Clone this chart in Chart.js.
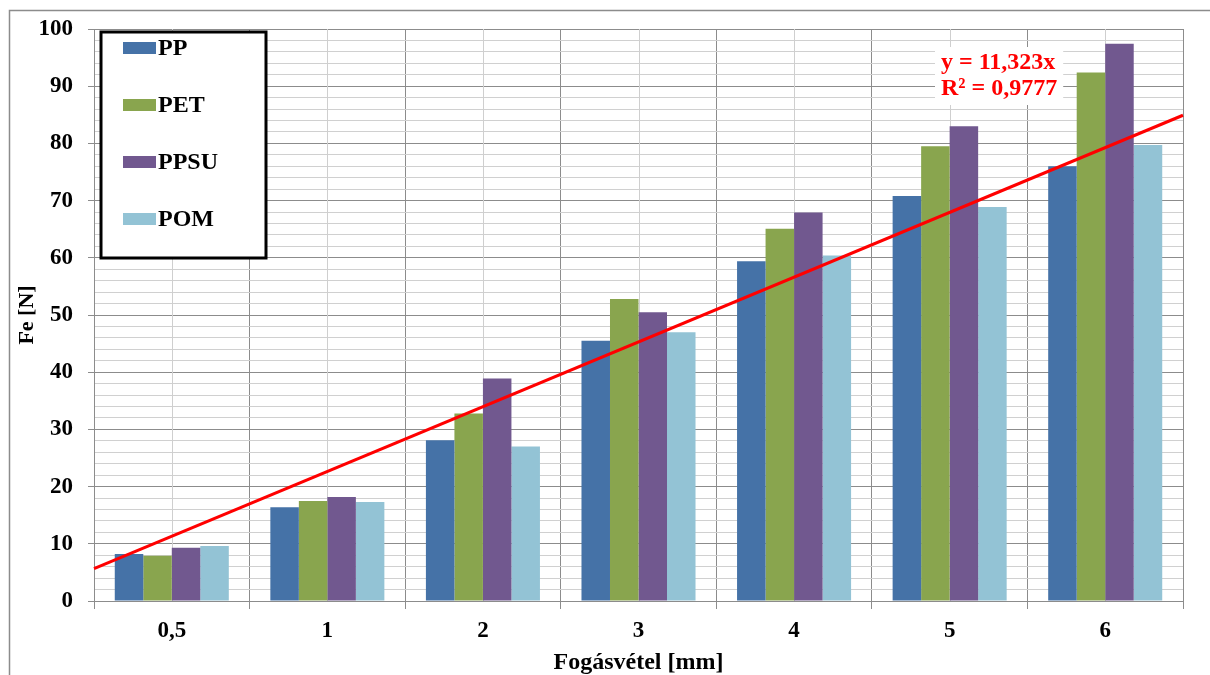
<!DOCTYPE html>
<html>
<head>
<meta charset="utf-8">
<script src="https://cdn.jsdelivr.net/npm/chart.js@4.4.1/dist/chart.umd.min.js"></script>
<style>
  html, body { margin: 0; padding: 0; background: #ffffff; }
  #wrap { width: 1210px; height: 675px; position: relative; }
</style>
</head>
<body>
<div id="wrap"><canvas id="c" width="1210" height="675"></canvas></div>
<script>
// ---- Data ----
const categories = ['0,5', '1', '2', '3', '4', '5', '6'];
const seriesNames = ['PP', 'PET', 'PPSU', 'POM'];
const ppValues   = [8.2, 16.4, 28.1, 45.5, 59.4, 70.8, 76.0];
const petValues  = [7.9, 17.5, 32.8, 52.8, 65.1, 79.5, 92.4];
const ppsuValues = [9.3, 18.2, 38.9, 50.5, 67.9, 83.0, 97.4];
const pomValues  = [9.6, 17.3, 27.0, 47.0, 60.4, 68.9, 79.7];
const seriesColors = ['#4572A7', '#89A54E', '#71588F', '#93C3D5'];
// Linear trend line (Excel: y = 11,323x over category number 1..7), endpoints at plot edges
const trendX = [0.5, 7.5];
const trendY = [5.66, 84.92];
const trendLabel = ['y = 11,323x', 'R\u00B2 = 0,9777'];
const yTickLabels = [0, 10, 20, 30, 40, 50, 60, 70, 80, 90, 100];
const xTitle = 'Fog\u00E1sv\u00E9tel [mm]';
const yTitle = 'Fe [N]';

const SERIF = '"Liberation Serif", "Times New Roman", serif';

const frame = {
  id: 'frame',
  beforeDraw(chart) {
    const ctx = chart.ctx;
    ctx.save();
    ctx.fillStyle = '#ffffff';
    ctx.fillRect(0, 0, chart.width, chart.height);
    ctx.strokeStyle = '#8c8c8c';
    ctx.lineWidth = 1.5;
    ctx.beginPath();
    ctx.moveTo(9.5, chart.height);
    ctx.lineTo(9.5, 10.5);
    ctx.lineTo(chart.width, 10.5);
    ctx.stroke();
    ctx.restore();
  },
  beforeDatasetsDraw(chart) {
    // lighter vertical lines at category centres
    const ctx = chart.ctx, xs = chart.scales.x, a = chart.chartArea;
    ctx.save();
    ctx.strokeStyle = '#cfcfcf';
    ctx.lineWidth = 1;
    categories.forEach((c, i) => {
      const px = Math.round(xs.getPixelForValue(i)) + 0.5;
      ctx.beginPath();
      ctx.moveTo(px, a.top);
      ctx.lineTo(px, a.bottom);
      ctx.stroke();
    });
    ctx.restore();
  },
  afterDatasetsDraw(chart) {
    // trend line, positioned through the chart's own x (category index) and y scales
    const ctx = chart.ctx, xs = chart.scales.x, ys = chart.scales.y;
    ctx.save();
    ctx.strokeStyle = '#ff0000';
    ctx.lineWidth = 3;
    ctx.beginPath();
    trendX.forEach((x, i) => {
      const px = xs.getPixelForValue(x - 1);
      const py = ys.getPixelForValue(trendY[i]);
      if (i === 0) ctx.moveTo(px, py); else ctx.lineTo(px, py);
    });
    ctx.stroke();
    ctx.restore();
  }
};

const extras = {
  id: 'extras',
  afterDraw(chart) {
    const ctx = chart.ctx;
    ctx.save();
    // Trend label
    ctx.font = 'bold 24px ' + SERIF;
    ctx.textBaseline = 'middle';
    ctx.textAlign = 'left';
    const lx = 941, ly1 = 63, ly2 = 89;
    const w = Math.max(ctx.measureText(trendLabel[0]).width, ctx.measureText(trendLabel[1]).width);
    ctx.fillStyle = '#ffffff';
    ctx.fillRect(lx - 6, ly1 - 16, w + 12, (ly2 - ly1) + 32);
    ctx.fillStyle = '#ff0000';
    ctx.fillText(trendLabel[0], lx, ly1);
    ctx.fillText(trendLabel[1], lx, ly2);

    // Legend box
    const bx = 101, by = 32, bw = 165, bh = 226;
    ctx.fillStyle = '#ffffff';
    ctx.fillRect(bx, by, bw, bh);
    ctx.strokeStyle = '#000000';
    ctx.lineWidth = 3;
    ctx.strokeRect(bx, by, bw, bh);
    ctx.font = 'bold 24px ' + SERIF;
    ctx.textBaseline = 'middle';
    chart.data.datasets.forEach((d, i) => {
      const cy = 48 + i * 57;
      ctx.fillStyle = d.backgroundColor;
      ctx.fillRect(123, cy - 6, 33, 12);
      ctx.fillStyle = '#000000';
      ctx.fillText(d.label, 158, cy + 1);
    });
    ctx.restore();
  }
};

const barDatasets = [ppValues, petValues, ppsuValues, pomValues].map((vals, i) => ({
  label: seriesNames[i],
  data: vals,
  backgroundColor: seriesColors[i],
  borderWidth: 0,
  categoryPercentage: 0.733,
  barPercentage: 1.0
}));

new Chart(document.getElementById('c'), {
  type: 'bar',
  data: {
    labels: categories,
    datasets: barDatasets
  },
  options: {
    responsive: false,
    animation: false,
    devicePixelRatio: 1,
    layout: { padding: { top: 29, right: 27, bottom: 0, left: 0 } },
    plugins: {
      legend: { display: false },
      tooltip: { enabled: false },
      title: { display: false }
    },
    scales: {
      x: {
        type: 'category',
        position: 'bottom',
        offset: true,
        grid: {
          display: true,
          offset: true,
          color: '#8c8c8c',
          lineWidth: 1,
          drawTicks: true,
          tickLength: 8,
          tickColor: '#8c8c8c'
        },
        border: { display: true, color: '#8c8c8c', width: 1 },
        ticks: {
          color: '#000000',
          font: { family: SERIF, size: 23, weight: 'bold' },
          padding: 8,
          maxRotation: 0,
          autoSkip: false
        },
        title: {
          display: true,
          text: xTitle,
          color: '#000000',
          font: { family: SERIF, size: 24, weight: 'bold' },
          padding: { top: 0, bottom: -2 }
        },
        afterFit(s) { s.height = 74; }
      },
      y: {
        type: 'linear',
        position: 'left',
        min: 0,
        max: 100,
        grid: {
          color: (c) => (c.tick && c.tick.value % 10 === 0) ? '#8c8c8c' : '#d0d0d0',
          lineWidth: 1,
          drawTicks: true,
          tickLength: 6,
          tickColor: (c) => (c.tick && c.tick.value % 10 === 0) ? '#8c8c8c' : 'rgba(0,0,0,0)'
        },
        border: { display: true, color: '#8c8c8c', width: 1 },
        ticks: {
          stepSize: 2,
          autoSkip: false,
          color: '#000000',
          font: { family: SERIF, size: 23, weight: 'bold' },
          padding: 15,
          callback: (v) => yTickLabels.includes(v) ? String(v) : ''
        },
        title: {
          display: true,
          text: yTitle,
          color: '#000000',
          font: { family: SERIF, size: 22, weight: 'bold' },
          padding: { top: 14, bottom: 0 }
        },
        afterFit(s) { s.width = 94; }
      }
    }
  },
  plugins: [frame, extras]
});
</script>
</body>
</html>
